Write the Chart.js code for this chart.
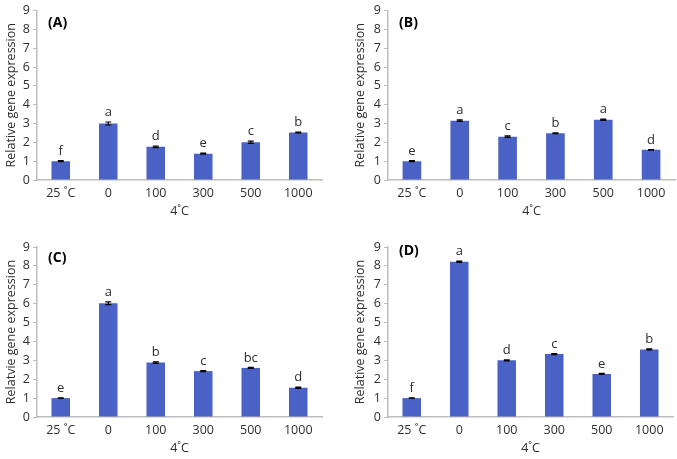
<!DOCTYPE html>
<html>
<head>
<meta charset="utf-8">
<script src="https://cdn.jsdelivr.net/npm/chart.js@4.4.1/dist/chart.umd.min.js"></script>
<style>
  body { margin: 0; background: #fff; }
  #wrap { position: relative; width: 677px; height: 459px; overflow: hidden; }
  .panel { position: absolute; }
</style>
</head>
<body>
<div id="wrap">
  <div class="panel" style="left:0;top:0;width:330px;height:222px"><canvas id="chartA"></canvas></div>
  <div class="panel" style="left:340px;top:0;width:337px;height:222px"><canvas id="chartB"></canvas></div>
  <div class="panel" style="left:0;top:225px;width:330px;height:234px"><canvas id="chartC"></canvas></div>
  <div class="panel" style="left:340px;top:225px;width:337px;height:234px"><canvas id="chartD"></canvas></div>
</div>
<script>
// shared categories
const categories = ['25 ˚C', '0', '100', '300', '500', '1000'];
const yTicks = [0, 1, 2, 3, 4, 5, 6, 7, 8, 9];

// panel A
const valuesA = [1.0, 3.0, 1.76, 1.4, 2.0, 2.52];
const errorsA = [0.03, 0.08, 0.04, 0.03, 0.06, 0.02];
const lettersA = ['f', 'a', 'd', 'e', 'c', 'b'];

// panel B
const valuesB = [1.0, 3.15, 2.3, 2.48, 3.2, 1.6];
const errorsB = [0.03, 0.04, 0.04, 0.02, 0.03, 0.02];
const lettersB = ['e', 'a', 'c', 'b', 'a', 'd'];

// panel C
const valuesC = [1.0, 6.02, 2.88, 2.43, 2.6, 1.55];
const errorsC = [0.02, 0.07, 0.04, 0.03, 0.03, 0.03];
const lettersC = ['e', 'a', 'b', 'c', 'bc', 'd'];

// panel D
const valuesD = [1.0, 8.22, 3.0, 3.33, 2.28, 3.58];
const errorsD = [0.02, 0.03, 0.03, 0.03, 0.03, 0.03];
const lettersD = ['f', 'a', 'd', 'c', 'e', 'b'];

const FONT = '"Open Sans", "Noto Sans", sans-serif';
const TEXT = '#2e2e2e';
const AXIS = '#bdbdbd';
const BAR = '#4a62c6';

// error bars + significance letters + panel tag
const annotate = {
    id: 'annotate',
    afterDatasetsDraw(chart, args, opts) {
        const ctx = chart.ctx;
        const meta = chart.getDatasetMeta(0);
        const y = chart.scales.y;
        ctx.save();
        meta.data.forEach((bar, i) => {
            const v = opts.values[i];
            const e = opts.errors[i];
            const yTop = y.getPixelForValue(v + e);
            const yBot = y.getPixelForValue(v - e);
            ctx.strokeStyle = '#000';
            ctx.lineWidth = 1.2;
            ctx.beginPath();
            ctx.moveTo(bar.x, yTop); ctx.lineTo(bar.x, yBot);
            ctx.moveTo(bar.x - 3, yTop); ctx.lineTo(bar.x + 3, yTop);
            ctx.moveTo(bar.x - 3, yBot); ctx.lineTo(bar.x + 3, yBot);
            ctx.stroke();
            ctx.fillStyle = TEXT;
            ctx.font = '13px ' + FONT;
            ctx.textAlign = 'center';
            ctx.textBaseline = 'bottom';
            ctx.fillText(opts.letters[i], bar.x, yTop - 3);
        });
        ctx.fillStyle = '#000';
        ctx.font = 'bold 14px ' + FONT;
        ctx.textAlign = 'left';
        ctx.textBaseline = 'middle';
        ctx.fillText(opts.tag, chart.chartArea.left + opts.tagDx, chart.chartArea.top + opts.tagDy);
        ctx.restore();
    }
};

function makeChart(id, values, errors, letters, tag, yTitle, layout) {
    const ctx = document.getElementById(id).getContext('2d');
    return new Chart(ctx, {
        type: 'bar',
        data: {
            labels: categories,
            datasets: [{
                data: values,
                backgroundColor: BAR,
                borderWidth: 0,
                barPercentage: 0.39,
                categoryPercentage: 1.0,
            }],
        },
        options: {
            responsive: true,
            maintainAspectRatio: false,
            animation: false,
            devicePixelRatio: 1,
            layout: { padding: { top: layout.top, left: layout.left, right: layout.right, bottom: 0 } },
            plugins: {
                legend: { display: false },
                tooltip: { enabled: false },
                annotate: { values, errors, letters, tag, tagDx: layout.tagDx, tagDy: layout.tagDy },
            },
            scales: {
                x: {
                    grid: { display: false, drawTicks: false },
                    border: { color: AXIS, width: 1.5 },
                    ticks: { color: TEXT, font: { family: FONT, size: 12.5 }, padding: 6, maxRotation: 0 },
                    title: { display: true, text: '4˚C', color: TEXT, font: { family: FONT, size: 12.5 }, padding: 3 },
                    afterFit(scale) { scale.height = layout.xh; },
                },
                y: {
                    min: 0,
                    max: 9,
                    afterBuildTicks(scale) { scale.ticks = yTicks.map((v) => ({ value: v })); },
                    grid: { drawOnChartArea: false, drawTicks: true, tickLength: 4, color: AXIS },
                    border: { color: AXIS, width: 1.5 },
                    ticks: { color: TEXT, font: { family: FONT, size: 12.5 }, padding: 3 },
                    title: { display: true, text: yTitle, color: TEXT, font: { family: FONT, size: 12.5 }, padding: 4 },
                    afterFit(scale) { scale.width = layout.yw; },
                },
            },
        },
        plugins: [annotate],
    });
}

makeChart('chartA', valuesA, errorsA, lettersA, '(A)', 'Relative gene expression',
    { top: 9, left: 0, right: 8, yw: 37, xh: 42, tagDx: 11, tagDy: 13 });
makeChart('chartB', valuesB, errorsB, lettersB, '(B)', 'Relative gene expression',
    { top: 9, left: 9, right: 2, yw: 39, xh: 42, tagDx: 11, tagDy: 13 });
makeChart('chartC', valuesC, errorsC, lettersC, '(C)', 'Relatvie gene expression',
    { top: 22, left: 0, right: 8, yw: 37, xh: 42, tagDx: 11, tagDy: 11 });
makeChart('chartD', valuesD, errorsD, lettersD, '(D)', 'Relative gene expression',
    { top: 22, left: 9, right: 4, yw: 39, xh: 42, tagDx: 11, tagDy: 4 });
</script>
</body>
</html>
